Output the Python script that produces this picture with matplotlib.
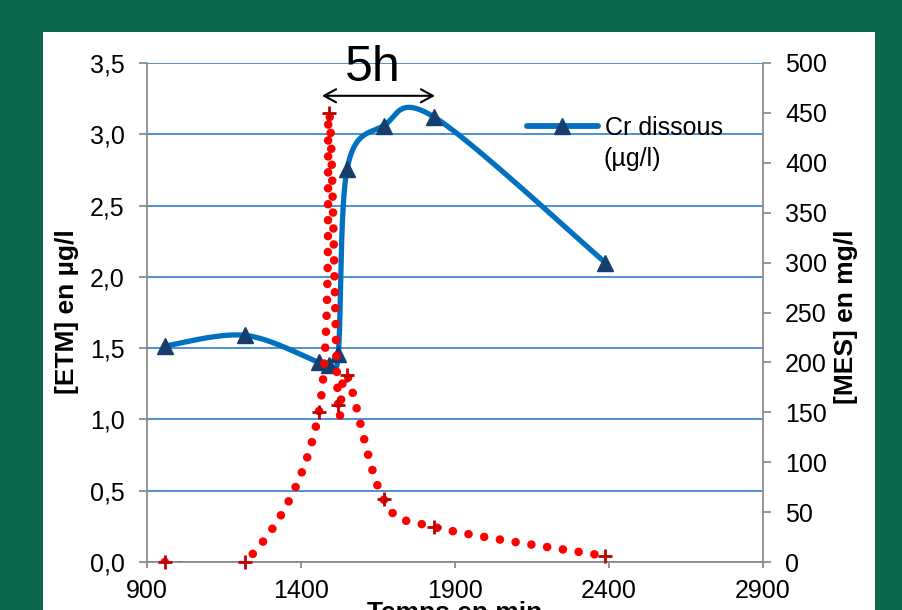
import numpy as np
import matplotlib
matplotlib.use('Agg')
import matplotlib.pyplot as plt
from matplotlib.patches import Rectangle
from matplotlib.lines import Line2D

plt.rcParams['font.family'] = ['Liberation Sans', 'DejaVu Sans']

# ---- data ----
time_min = [958, 1218, 1458, 1491, 1521, 1550, 1668, 1833, 2388]
cr_dissous = [1.515, 1.59, 1.40, 1.38, 1.46, 2.76, 3.06, 3.12, 2.10]
mes = [0, 0, 150, 450, 157, 187, 63, 35, 6]

x_ticks = [900, 1400, 1900, 2400, 2900]
x_labels = ['900', '1400', '1900', '2400', '2900']
left_ticks = [0.0, 0.5, 1.0, 1.5, 2.0, 2.5, 3.0, 3.5]
left_labels = ['0,0', '0,5', '1,0', '1,5', '2,0', '2,5', '3,0', '3,5']
right_ticks = [0, 50, 100, 150, 200, 250, 300, 350, 400, 450, 500]
right_labels = [str(v) for v in right_ticks]


def excel_smooth(x, y, n=80):
    pts = np.column_stack([x, y]).astype(float)
    out = [pts[0]]
    N = len(pts)
    for i in range(N - 1):
        p0 = pts[i - 1] if i > 0 else pts[i]
        p1 = pts[i]
        p2 = pts[i + 1]
        p3 = pts[i + 2] if i + 2 < N else pts[i + 1]
        c1 = p1 + (p2 - p0) / 6.0
        c2 = p2 - (p3 - p1) / 6.0
        s = np.linspace(0, 1, n)[1:, None]
        b = (1 - s) ** 3 * p1 + 3 * (1 - s) ** 2 * s * c1 + 3 * (1 - s) * s ** 2 * c2 + s ** 3 * p2
        out.extend(b)
    out = np.array(out)
    return out[:, 0], out[:, 1]


W, H = 903, 610
GREEN = '#0b684d'
BLUE = '#0070C0'
NAVY = '#173f6e'
GRID = '#4f8fd6'
GRAY = '#8c8c8c'
RED = '#FF0000'
DARKRED = '#C00000'

fig = plt.figure(figsize=(W / 100, H / 100), dpi=100, facecolor=GREEN)
fig.patches.append(Rectangle((43 / W, -0.02), (875 - 43) / W, 1 - 32 / H + 0.02,
                             transform=fig.transFigure, facecolor='white',
                             edgecolor='none', zorder=-10))

ax = fig.add_axes([147 / W, 1 - 562 / H, 616 / W, 499 / H])
ax.set_facecolor('white')
ax.set_xlim(900, 2900)
ax.set_ylim(0, 3.5)
ax2 = ax.twinx()
ax2.set_ylim(0, 500)

ax.set_xticks(x_ticks)
ax.set_xticklabels(x_labels)
ax.set_yticks(left_ticks)
ax.set_yticklabels(left_labels)
ax2.set_yticks(right_ticks)
ax2.set_yticklabels(right_labels)

ax.yaxis.grid(True, color=GRID, lw=1.4)
ax.set_axisbelow(True)

for a in (ax, ax2):
    a.spines['top'].set_visible(False)
ax.spines['right'].set_visible(False)
ax2.spines['left'].set_visible(False)
ax2.spines['bottom'].set_visible(False)
for sp in ('left', 'bottom'):
    ax.spines[sp].set_color(GRAY)
    ax.spines[sp].set_linewidth(1.3)
ax2.spines['right'].set_color(GRAY)
ax2.spines['right'].set_linewidth(1.3)

ax.tick_params(axis='y', direction='out', length=6, width=1.3, color=GRAY,
               labelsize=18, pad=10)
ax.tick_params(axis='x', direction='out', length=4.5, width=1.3, color=GRAY,
               labelsize=18, pad=8)
ax2.tick_params(axis='y', direction='out', length=6, width=1.3, color=GRAY,
                labelsize=18, pad=10)

# Cr dissous (left axis)
sx, sy = excel_smooth(time_min, cr_dissous)
ax.plot(sx, sy, color=BLUE, lw=3.8, solid_capstyle='round', zorder=3)
ax.plot(time_min, cr_dissous, ls='none', marker='^', ms=11.5, mfc=NAVY, mec=NAVY,
        zorder=4, clip_on=False)

# MES (right axis)
mx, my = excel_smooth(time_min, mes)
ax2.plot(mx, my, color=RED, lw=6.2, ls=(0, (0.001, 1.85)), dash_capstyle='round',
         zorder=3)
ax2.plot(time_min, mes, ls='none', marker='+', ms=10, mew=2.0, color=DARKRED,
         zorder=4, clip_on=False)

# 5h annotation
ax.annotate('', xy=(1835, 3.27), xytext=(1468, 3.27),
            arrowprops=dict(arrowstyle='<->,head_length=0.86,head_width=0.47',
                            lw=1.5, color='black', mutation_scale=10,
                            shrinkA=0, shrinkB=0), zorder=6)
ax.text(1632, 3.375, '5h', fontsize=36, ha='center', va='baseline', zorder=6)

# legend
handle = Line2D([], [], color=BLUE, lw=4.2, marker='^', ms=11.5, mfc=NAVY, mec=NAVY,
                solid_capstyle='round')
leg = fig.legend([handle], ['Cr dissous'], loc='center left',
                 bbox_to_anchor=(527 / W, 1 - 128 / H), bbox_transform=fig.transFigure,
                 frameon=False, fontsize=18, handlelength=2.84, handletextpad=0.28,
                 borderpad=0, borderaxespad=0, numpoints=1)
fig.text(604 / W, 1 - 166 / H, '(µg/l)', fontsize=18, ha='left', va='baseline')

# axis labels
fig.text(67 / W, 1 - 312 / H, '[ETM] en µg/l', rotation=90, ha='center', va='center',
         fontsize=19, fontweight='bold')
fig.text(846 / W, 1 - 317 / H, '[MES] en mg/l', rotation=90, ha='center', va='center',
         fontsize=19, fontweight='bold')
fig.text(455 / W, 1 - 620 / H, 'Temps en min', ha='center', va='baseline',
         fontsize=19, fontweight='bold')

fig.savefig('out.png', dpi=100, facecolor=GREEN)
